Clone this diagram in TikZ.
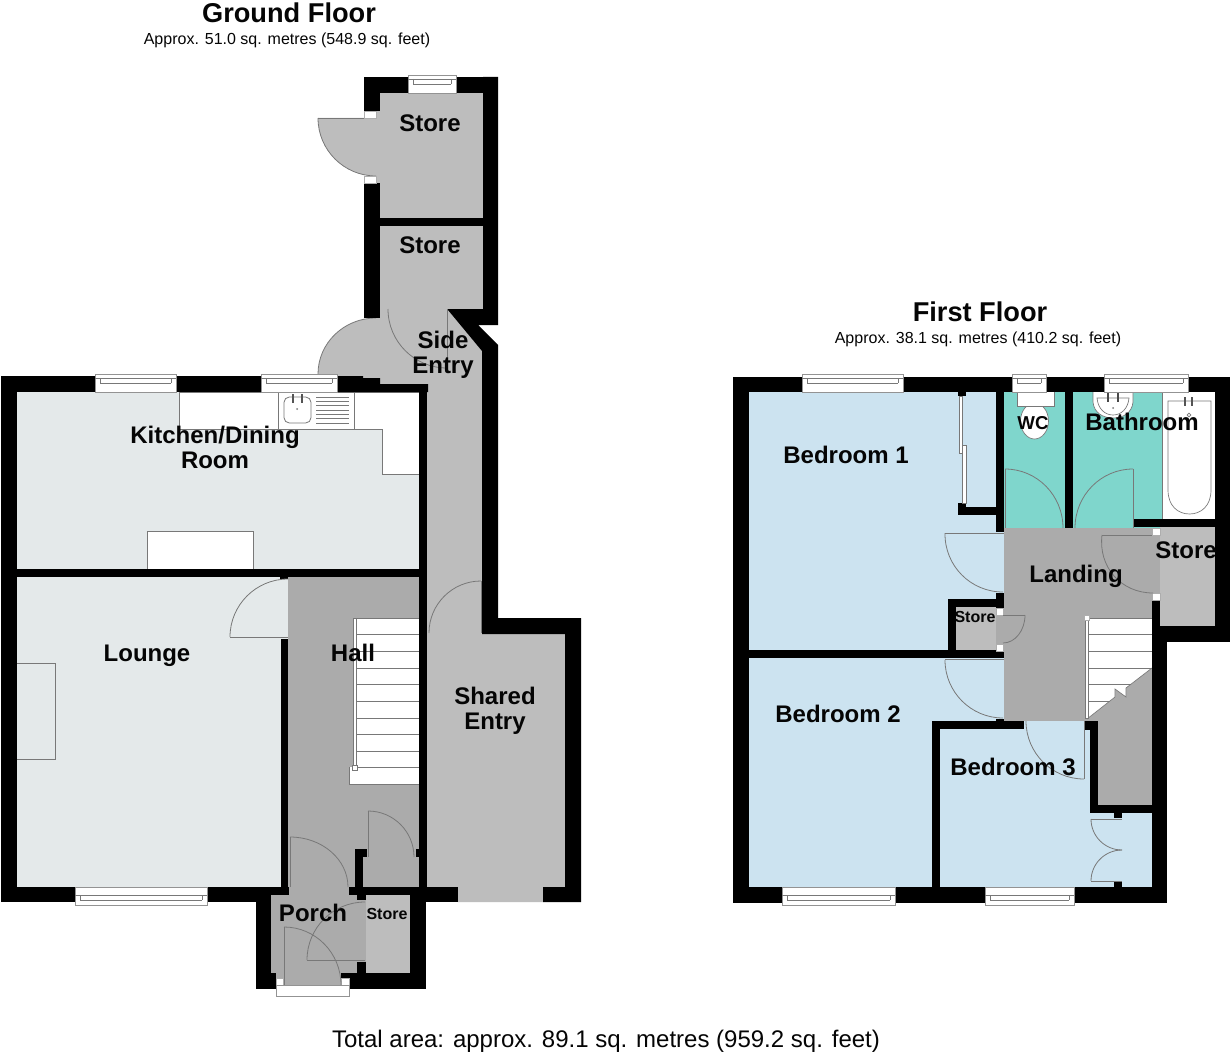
\documentclass[tikz,border=0pt]{standalone}
\usepackage{fontspec}
\setmainfont{Liberation Sans}
\usetikzlibrary{calc}
\definecolor{wallc}{HTML}{000000}
\definecolor{linec}{HTML}{787878}
\definecolor{hallc}{HTML}{ABABAB}
\definecolor{storec}{HTML}{BDBDBD}
\definecolor{livec}{HTML}{E4E9EA}
\definecolor{bedc}{HTML}{CCE3F0}
\definecolor{wetc}{HTML}{7FD6CC}
\definecolor{txtc}{HTML}{050505}
\tikzset{
  thinl/.style={draw=linec,line width=0.6pt},
  unit/.style={fill=white,draw=linec,line width=0.6pt},
  lab/.style={font=\fontsize{18}{18.8}\selectfont\bfseries,text=txtc,align=center,inner sep=0pt},
  smalllab/.style={font=\fontsize{12}{13}\selectfont\bfseries,text=txtc,align=center,inner sep=0pt},
  ttl/.style={font=\fontsize{20.4}{22}\selectfont\bfseries,text=txtc,inner sep=0pt},
  subttl/.style={font=\fontsize{12}{13}\selectfont,text=txtc,inner sep=0pt},
}
\newcommand\wl[4]{\fill[wallc] (#1,#2) rectangle (#3,#4);}
\newcommand\flr[5]{\fill[#1] (#2,#3) rectangle (#4,#5);}
\newcommand\jamb[4]{\filldraw[fill=white,draw=linec!60,line width=0.5pt] (#1,#2) rectangle (#3,#4);}
\newcommand\win[5]{%
  \draw[unit,draw=linec!80] (#1,#3) rectangle (#2,#4);
  \draw[thinl,line width=0.7pt] (#1,#5) -- (#2,#5) (#1+5,#5+5) -- (#2-5,#5+5);
  \draw[thinl,line width=0.5pt] (#1+5,#5) -- (#1+5,#5+5) (#2-5,#5) -- (#2-5,#5+5);
}
% quarter circle door swing from (a) to (b) about centre (c)
\newcommand\arcq[6]{%
  \draw[thinl] (#1,#2) .. controls ($(#1,#2)!.5523!(#1+#3-#5,#2+#4-#6)$) and ($(#3,#4)!.5523!(#1+#3-#5,#2+#4-#6)$) .. (#3,#4);}
\newcommand\arcf[7]{%
  \fill[#7] (#5,#6) -- (#1,#2) .. controls ($(#1,#2)!.5523!(#1+#3-#5,#2+#4-#6)$) and ($(#3,#4)!.5523!(#1+#3-#5,#2+#4-#6)$) .. (#3,#4) -- cycle;
  \arcq{#1}{#2}{#3}{#4}{#5}{#6}}
\begin{document}
\begin{tikzpicture}[x=0.75pt,y=-0.75pt]
\useasboundingbox (0,0) rectangle (1232,1056);
\fill[white] (0,0) rectangle (1232,1056);

%%% ===== GROUND FLOOR floors =====
\flr{storec}{376}{93}{483}{218}
\flr{storec}{380}{226}{483}{320}
\fill[storec] (376,318) -- (448,309) -- (483,352) -- (483,634) -- (565,634) -- (565,895) -- (543,902) -- (458,902) -- (427,895) -- (427,384) -- (380,384) -- (337,378) -- (337,372) -- (376,372) -- cycle;
\flr{livec}{17}{392}{419}{569}
\flr{livec}{17}{577}{288}{887}
\flr{hallc}{288}{577}{419}{895}
\flr{hallc}{271}{895}{366}{978}
\flr{hallc}{283}{978}{341}{985}
\flr{storec}{366}{895}{410}{973}

% door leaves beyond the walls
\arcf{318}{118}{376}{176}{376}{118}{storec}
\draw[thinl] (318,118) -- (376,118);
\arcf{318}{374}{376}{318}{376}{374}{storec}

%%% kitchen units
\fill[white,draw=linec,line width=0.6pt] (179,392) -- (179,429) -- (382,429) -- (382,474) -- (419,474) -- (419,392) -- cycle;
\draw[thinl] (278,392) -- (278,429) (354,392) -- (354,429);
\draw[thinl,rounded corners=4pt] (284,397) rectangle (311,423);
\draw[draw=linec!70!black,line width=0.9pt] (293,394) -- (293,403) (302,394) -- (302,403);
\fill[linec] (297,409) circle (1);
\foreach \yy in {397,401.3,405.6,410,414.3,418.6,423}{\draw[thinl,line width=0.5pt] (316,\yy) -- (349,\yy);}
\filldraw[unit] (147,569) -- (147,531) -- (253,531) -- (253,569);
%%% fireplace
\draw[thinl] (17,663) -- (55,663) -- (55,759) -- (17,759);

%%% hall stairs
\fill[white] (356,618) rectangle (419,784);
\fill[white] (349,767) rectangle (419,784);
\draw[thinl] (349,767) -- (349,784) -- (419,784);
\draw[thinl] (356,618) -- (419,618);
\foreach \yy in {634,651,668,684,701,718,734,751,767}{\draw[thinl] (356,\yy) -- (419,\yy);}
\filldraw[fill=white,draw=linec,line width=0.5pt] (353,618) rectangle (356,767);
\filldraw[fill=white,draw=linec,line width=0.5pt] (352,765) rectangle (357,770);

%%% ===== GROUND FLOOR walls =====
\wl{364}{77}{408}{93}
\wl{456}{77}{498}{93}
\wl{364}{93}{380}{111}
\wl{364}{183}{380}{318}
\fill[wallc] (483,77) -- (498,77) -- (498,325) -- (478,325) -- (498,345) -- (498,618) -- (581,618) -- (581,902) -- (543,902) -- (543,887) -- (565,887) -- (565,634) -- (482,634) -- (482,351) -- (448,310) -- (448,309) -- (483,309) -- cycle;
\wl{380}{218}{483}{226}
\jamb{364}{111}{376}{118}
\jamb{364}{176}{376}{183}
\wl{1}{376}{95}{392}
\wl{176}{376}{261}{392}
\fill[wallc] (337,376) -- (363,376) -- (363,378) -- (380,378) -- (380,384) -- (428,384) -- (428,392) -- (337,392) -- cycle;
\wl{419}{384}{427}{887}
\wl{1}{376}{17}{902}
\wl{17}{569}{419}{577}
\wl{1}{887}{271}{902}
\wl{271}{887}{289}{895}
\wl{281}{639}{288}{887}
\wl{280}{577}{288}{578.5}
\wl{349}{887}{458}{895}
\wl{426}{887}{458}{902}
\wl{355}{849}{363}{887}
\wl{355}{849}{367}{857}
\wl{416}{849}{419}{857}
\wl{357}{895}{366}{900}
\wl{357}{962}{366}{973}
\wl{410}{887}{426}{989}
\wl{256}{902}{271}{989}
\wl{271}{973}{276}{989}
\wl{349}{973}{426}{989}
\wl{341}{973}{349}{978}
\jamb{276}{978}{283}{985}
\jamb{341}{978}{349}{985}
\draw[unit,draw=linec!80] (276,985) rectangle (349,996);
\wl{256}{985}{276}{989}

\win{408}{456}{75}{93}{79}
\win{95}{176}{374}{392}{378}
\win{261}{337}{374}{392}{378}
\win{75}{207}{887}{905}{895}

%%% ground doors
\draw[thinl] (447,309) -- (447,371);
\arcq{388}{309}{447}{368}{447}{309}
\draw[thinl] (481,581) -- (481,633);
\arcq{429}{633}{481}{581}{481}{633}
\draw[thinl] (230,637) -- (288,637);
\arcq{230}{637}{288}{579}{288}{637}
\draw[thinl] (368,857) -- (368,811);
\arcq{368}{811}{414}{857}{368}{857}
\draw[thinl] (290,887) -- (290,837);
\arcq{290}{837}{348}{887}{290}{887}
\draw[thinl] (365,960) -- (307,960);
\arcq{307}{960}{365}{902}{365}{960}
\draw[thinl] (284,985) -- (284,927);
\arcq{284}{927}{341}{985}{284}{985}

%%% ===== FIRST FLOOR floors =====
\flr{bedc}{749}{392}{1004}{650}
\flr{bedc}{749}{658}{1004}{721}
\flr{bedc}{749}{721}{932}{887}
\flr{bedc}{940}{729}{1090}{887}
\flr{bedc}{1024}{721}{1085}{730}
\flr{bedc}{1090}{813}{1152}{887}
\flr{wetc}{1004}{392}{1065}{528}
\flr{wetc}{1073}{392}{1162}{528}
\flr{white}{1162}{392}{1215}{519}
\flr{storec}{956}{607}{996}{650}
\flr{hallc}{996}{615}{1004}{644}
\flr{storec}{1160}{527}{1215}{626}
\flr{hallc}{1004}{528}{1152}{721}
\flr{hallc}{1152}{535}{1160}{593}
\flr{hallc}{1098}{668}{1152}{805}

%%% bath, basin, wc
\draw[thinl] (1162,392) -- (1162,519);
\draw[thinl,line width=0.5pt] (1168,401) -- (1211,401) -- (1211,490) .. controls (1211,506) and (1201,514) .. (1189.5,514) .. controls (1178,514) and (1168,506) .. (1168,490) -- cycle;
\draw[draw=linec!70!black,line width=0.8pt] (1185,397) -- (1185,406) (1192,397) -- (1192,406);
\draw[thinl,line width=0.5pt] (1189,415) circle (1.8);
\filldraw[unit,line width=0.5pt] (1093,392) -- (1093,402) .. controls (1094,413) and (1103,418) .. (1113,418) .. controls (1123,418) and (1132,413) .. (1133,402) -- (1133,392);
\draw[thinl,line width=0.5pt] (1097,398) .. controls (1098,409) and (1105,415) .. (1113,415) .. controls (1121,415) and (1128,409) .. (1129,398) -- cycle;
\draw[draw=linec!60!black,line width=0.9pt] (1108,393) -- (1108,402) (1118,393) -- (1118,402);
\fill[linec] (1113,408) circle (1);
\draw[unit,line width=0.5pt] (1034.5,421) ellipse [x radius=14,y radius=18];
\fill[white] (1017,392) rectangle (1054,406);
\draw[thinl,line width=0.5pt] (1017,392) -- (1017,406) -- (1054,406) -- (1054,392);

%%% landing stairs
\fill[white] (1089,618) -- (1152,618) -- (1152,668) -- (1126,688) -- (1126,697) -- (1115,689) -- (1115,697) -- (1087,719) -- (1087,618) -- cycle;
\foreach \yy/\xx in {634/1152,651/1152,668/1152,684/1131,701/1110}{\draw[thinl] (1088,\yy) -- (\xx,\yy);}
\draw[thinl] (1088,618) -- (1152,618);
\draw[thinl,line width=0.5pt] (1152,668) -- (1126,688) -- (1126,697) -- (1115,689) -- (1115,697) -- (1087,719);
\filldraw[fill=white,draw=linec,line width=0.5pt] (1085,618) rectangle (1088,718);
\jamb{1084}{615}{1089}{620}

%%% ===== FIRST FLOOR walls =====
\wl{733}{377}{802}{392}
\wl{903}{377}{1012}{392}
\wl{1046}{377}{1104}{392}
\wl{1188}{377}{1230}{392}
\wl{733}{377}{749}{903}
\wl{733}{887}{985}{903}
\wl{1074}{887}{1167}{903}
\wl{1215}{377}{1230}{642}
\wl{1152}{626}{1230}{642}
\wl{1152}{600}{1160}{642}
\wl{1152}{642}{1167}{903}
\wl{996}{392}{1004}{532}
\wl{1065}{392}{1073}{528}
\wl{1134}{519}{1215}{527}
\wl{996}{593}{1004}{608}
\wl{996}{651}{1004}{658}
\wl{948}{599}{1004}{607}
\wl{948}{599}{956}{650}
\wl{749}{650}{1004}{658}
\wl{996}{719}{1004}{721}
\wl{932}{721}{1024}{729}
\wl{932}{721}{940}{887}
\wl{1085}{721}{1098}{730}
\wl{1090}{721}{1098}{813}
\wl{1090}{805}{1152}{813}
\wl{1114}{813}{1122}{818}
\wl{1114}{882}{1122}{887}
\wl{958}{392}{966}{396}
\wl{958}{503}{966}{515}
\wl{958}{507}{996}{515}
\jamb{1152}{528}{1160}{535}
\jamb{1152}{593}{1160}{600}
\jamb{996}{608}{1003}{615}
\jamb{996}{644}{1003}{651}

%%% sliding wardrobe doors
\filldraw[fill=white,draw=linec,line width=0.5pt] (959,396) rectangle (962,453);
\filldraw[fill=white,draw=linec,line width=0.5pt] (962,445) rectangle (966,503);

\win{802}{903}{374}{392}{378}
\win{1012}{1046}{374}{392}{378}
\win{1104}{1188}{374}{392}{378}
\win{782}{895}{887}{905}{895}
\win{985}{1074}{887}{905}{895}

%%% first floor doors
\draw[thinl] (1005,528) -- (1005,469);
\arcq{1005}{469}{1063}{528}{1005}{528}
\draw[thinl] (1133,528) -- (1133,469);
\arcq{1133}{469}{1075}{528}{1133}{528}
\draw[thinl] (945,533) -- (1004,533);
\arcq{945}{533}{1003}{592}{1004}{533}
\draw[thinl] (945,659) -- (1004,659);
\arcq{945}{660}{1003}{718}{1003}{660}
\draw[thinl] (1102,535) -- (1152,535);
\arcq{1102}{535}{1153}{593}{1160}{535}
\draw[thinl] (1003,615) -- (1025,615);
\arcq{1025}{615}{1003}{643}{1003}{615}
\draw[thinl] (1084,721) -- (1084,779);
\arcq{1026}{721}{1084}{779}{1084}{721}
\draw[thinl] (1091,819) -- (1122,819);
\arcq{1091}{819}{1122}{850}{1122}{819}
\draw[thinl] (1091,881) -- (1122,881);
\arcq{1122}{850}{1091}{881}{1122}{881}

%%% ===== TEXT =====
\node[ttl] (gftitle) at (289,13) {Ground Floor};
\node[subttl] (gfsub) at (287,40) {Approx. 51.0 sq. metres (548.9 sq. feet)};
\node[ttl] (fftitle) at (980,312) {First Floor};
\node[subttl] (ffsub) at (978,339) {Approx. 38.1 sq. metres (410.2 sq. feet)};
\node[font=\fontsize{18}{20}\selectfont,text=txtc,inner sep=0pt] (total) at (606,1041) {Total area: approx. 89.1 sq. metres (959.2 sq. feet)};
\node[lab] (store1) at (430,123) {Store};
\node[lab] (store2) at (430,245) {Store};
\node[lab] (side) at (443,355) {Side\\Entry};
\node[lab] (kitchen) at (215,447) {Kitchen/Dining\\Room};
\node[lab] (lounge) at (147,656) {Lounge};
\node[lab] (hall) at (353,653) {Hall};
\node[lab] (shared) at (495,710.5) {Shared\\Entry};
\node[lab] (porch) at (313,913) {Porch};
\node[smalllab] (store3) at (387,914) {Store};
\node[lab] (bed1) at (846,455) {Bedroom 1};
\node[lab] (bed2) at (838,714) {Bedroom 2};
\node[lab] (bed3) at (1013,767) {Bedroom 3};
\node[font=\fontsize{14}{15}\selectfont\bfseries,text=txtc,inner sep=0pt] (wc) at (1033,423) {WC};
\node[lab] (bath) at (1142,422) {Bathroom};
\node[lab] (landing) at (1076,576) {Landing};
\node[lab] (store4) at (1186,550) {Store};
\node[smalllab] (store5) at (975,617) {Store};
\end{tikzpicture}
\end{document}
